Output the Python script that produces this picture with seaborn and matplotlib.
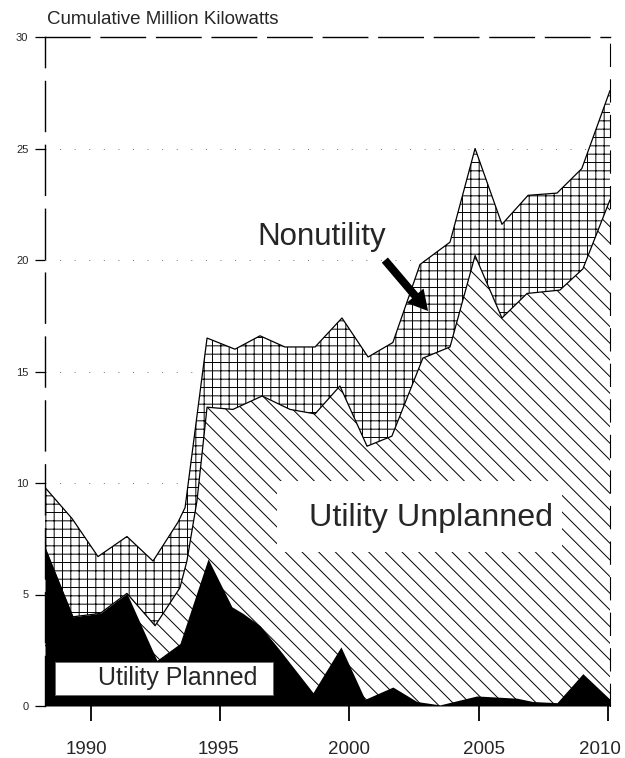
import matplotlib
matplotlib.use("Agg")
import matplotlib.pyplot as plt
import matplotlib.transforms as mtransforms
from matplotlib.patches import Rectangle
import seaborn as sns

# ---- data (cumulative million kilowatts) ----
# Top of stack: utility + nonutility
total_years = [1988.22, 1989.27, 1990.27, 1991.39, 1992.40, 1993.37, 1993.64, 1994.49,
               1995.57, 1996.54, 1997.50, 1998.67, 1999.71, 2000.72, 2001.68, 2002.73,
               2003.89, 2004.86, 2005.90, 2006.91, 2008.03, 2008.99, 2010.08]
total_values = [9.8, 8.4, 6.7, 7.6, 6.5, 8.25, 8.9, 16.5,
                16.0, 16.6, 16.1, 16.1, 17.4, 15.65, 16.3, 19.8,
                20.8, 25.0, 21.6, 22.9, 23.0, 24.1, 27.6]

# Utility planned + unplanned
utility_years = [1988.22, 1989.30, 1990.35, 1991.39, 1992.48, 1993.44, 1993.71, 1994.10,
                 1994.49, 1995.49, 1996.62, 1997.70, 1998.67, 1999.63, 2000.68, 2001.64,
                 2002.84, 2003.89, 2004.86, 2005.90, 2006.87, 2008.14, 2009.03, 2010.08]
utility_values = [7.1, 4.0, 4.15, 5.05, 3.6, 5.3, 6.5, 9.2,
                  13.4, 13.3, 13.9, 13.3, 13.1, 14.35, 11.65, 12.1,
                  15.6, 16.1, 20.2, 17.4, 18.5, 18.65, 19.6, 22.7]

# Utility planned
planned_years = [1988.22, 1989.30, 1990.35, 1991.39, 1992.55, 1993.44, 1994.53, 1995.45,
                 1995.88, 1996.54, 1997.31, 1998.59, 1999.67, 2000.60, 2001.68, 2002.61,
                 2003.50, 2004.93, 2006.48, 2007.10, 2008.03, 2009.03, 2010.08]
planned_values = [7.1, 4.0, 4.15, 5.05, 2.05, 2.8, 6.6, 4.45,
                  4.15, 3.6, 2.5, 0.6, 2.65, 0.3, 0.85, 0.2,
                  0.05, 0.45, 0.35, 0.2, 0.15, 1.45, 0.3]

x_ticks = [1990, 1995, 2000, 2005, 2010]
y_ticks = [0, 5, 10, 15, 20, 25, 30]
title = "Cumulative Million Kilowatts"

# ---- style ----
sns.set_style("white")
plt.rcParams["font.family"] = ["Liberation Sans", "DejaVu Sans"]
plt.rcParams["hatch.linewidth"] = 0.7
plt.rcParams["hatch.color"] = "black"

W, H = 625, 758
fig = plt.figure(figsize=(W / 100, H / 100), dpi=100)
ax = fig.add_axes([45 / W, 1 - 706 / H, 565 / W, 669 / H])

# faint dotted gridlines
for yv in [10, 15, 20, 25]:
    ax.axhline(yv, color="0.45", lw=0.7, ls=(0, (1, 14)), zorder=0)

# stacked areas drawn as overlapping layers
ax.fill_between(total_years, 0, total_values, facecolor="white", edgecolor="black",
                hatch="++", linewidth=0, zorder=1)
ax.fill_between(utility_years, 0, utility_values, facecolor="white", edgecolor="black",
                hatch="\\\\", linewidth=0, zorder=2)
ax.fill_between(planned_years, 0, planned_values, color="black", linewidth=0, zorder=3)

# outlines via seaborn
sns.lineplot(x=total_years, y=total_values, color="black", lw=0.9, ax=ax,
             sort=False, estimator=None, zorder=4)
sns.lineplot(x=utility_years, y=utility_values, color="black", lw=0.9, ax=ax,
             sort=False, estimator=None, zorder=4)

ax.set_xlim(1988.22, 2010.08)
ax.set_ylim(0, 30)
ax.set_xticks(x_ticks)
ax.set_yticks(y_ticks)
ax.set_xticklabels([str(v) for v in x_ticks])
ax.set_yticklabels([str(v) for v in y_ticks])
ax.tick_params(axis="x", bottom=True, direction="out", length=11, width=1.3,
               pad=14, labelsize=13.5, color="black")
ax.tick_params(axis="y", left=True, direction="out", length=7, width=0.9,
               pad=5, labelsize=8, color="black")

# small horizontal nudges of the x labels as in the scanned original
for lab, dx in zip(ax.get_xticklabels(), [-5, -2, 0, 5, -8]):
    lab.set_transform(lab.get_transform() +
                      mtransforms.ScaledTranslation(dx / 100, 0, fig.dpi_scale_trans))

ax.spines["bottom"].set_visible(False)
for side, ls, lw in [("left", (0, (36, 10)), 1.0),
                     ("top", (0, (32, 8)), 1.0),
                     ("right", (0, (20, 12)), 0.8)]:
    ax.spines[side].set_visible(True)
    ax.spines[side].set_color("black")
    ax.spines[side].set_linewidth(lw)
    ax.spines[side].set_linestyle(ls)

# title
fig.text(47 / W, 1 - 19 / H, title, fontsize=13.5, ha="left", va="center")

# labels
ax.text(1996.42, 20.67, "Nonutility", fontsize=22.5, ha="left", va="baseline", zorder=6)
ax.annotate("", xy=(2003.11, 17.62), xytext=(2001.30, 20.09),
            arrowprops=dict(arrowstyle="simple,head_length=0.9,head_width=1.0,tail_width=0.36",
                            mutation_scale=16, facecolor="black", edgecolor="none"),
            zorder=6)

ax.add_patch(Rectangle((1997.2, 6.9), 2008.22 - 1997.2, 10.1 - 6.9,
                       facecolor="white", edgecolor="none", zorder=5))
ax.text(2003.15, 8.43, "Utility Unplanned", fontsize=23.2, ha="center", va="center", zorder=6)

ax.add_patch(Rectangle((1988.61, 0.49), 1997.04 - 1988.61, 1.97 - 0.49,
                       facecolor="white", edgecolor="0.4", lw=0.6, zorder=5))
ax.text(1993.35, 1.26, "Utility Planned", fontsize=18, ha="center", va="center", zorder=6)

fig.savefig("out.png", dpi=100)
